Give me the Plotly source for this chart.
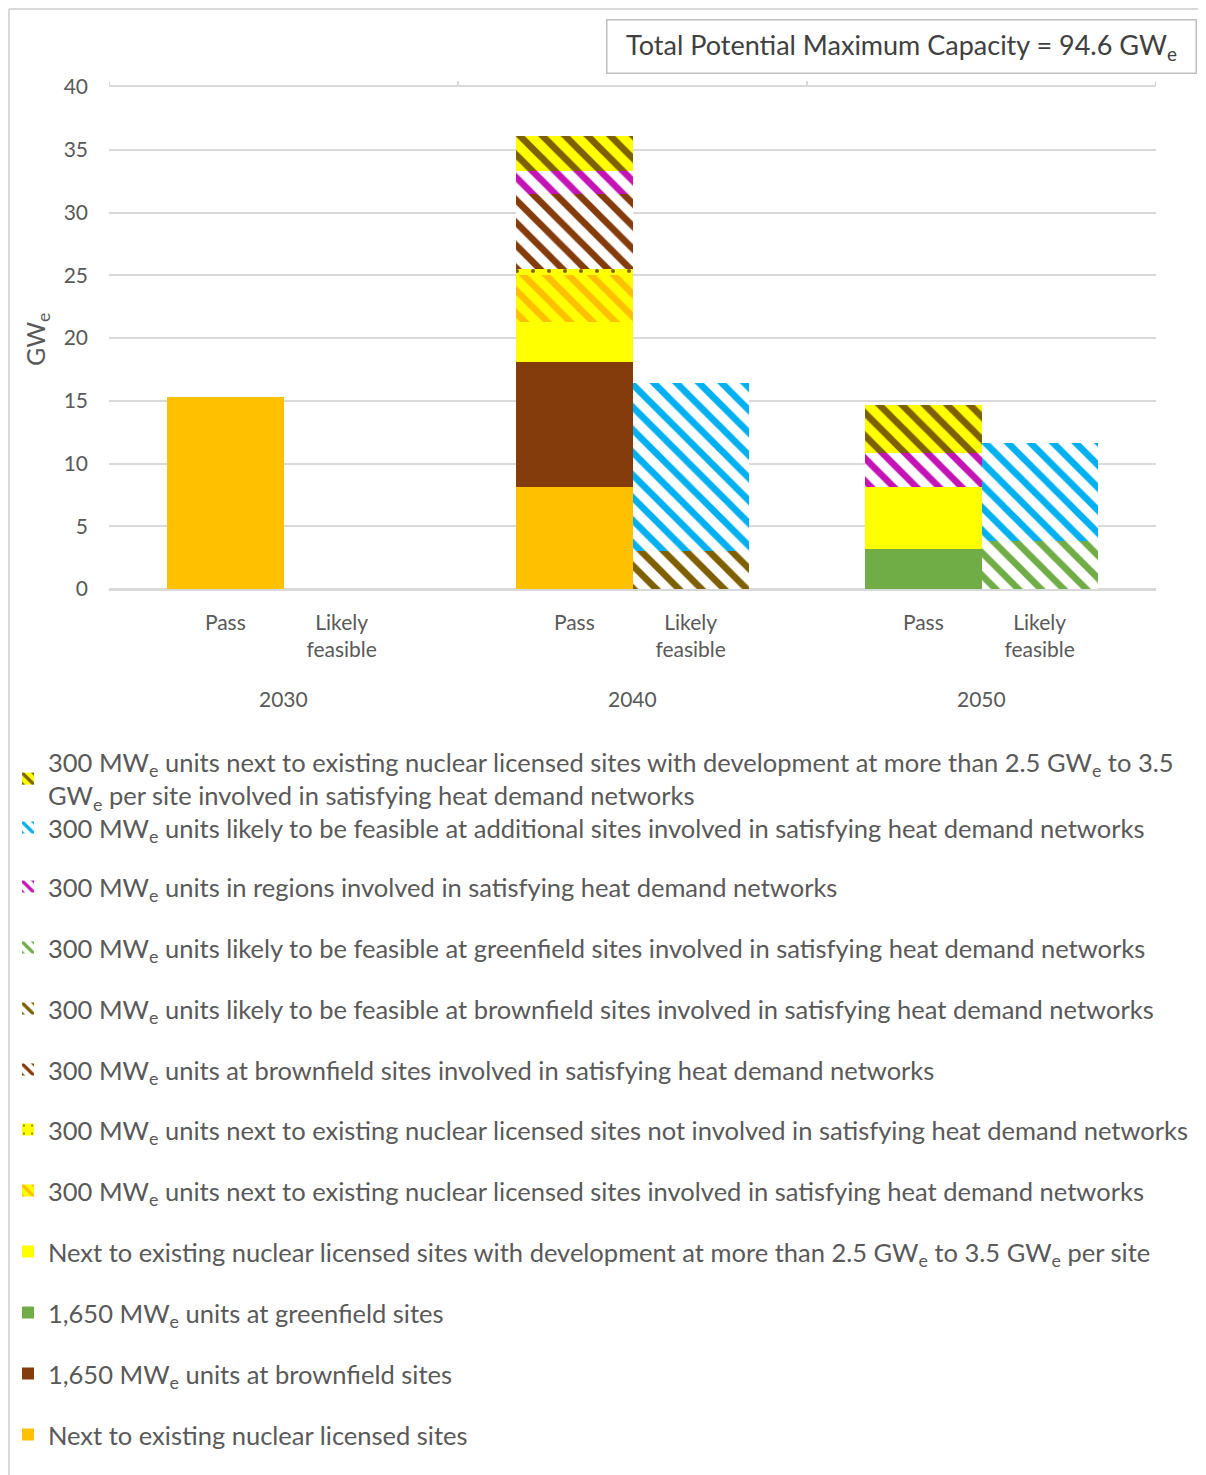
import plotly.graph_objects as go

# ---------------------------------------------------------------------------
# Data (GWe)
# bar order: 2030 Pass, 2030 Likely feasible, 2040 Pass, 2040 Likely feasible,
#            2050 Pass, 2050 Likely feasible
# ---------------------------------------------------------------------------

years = ["2030", "2040", "2050"]
bar_kinds = ["Pass", "Likely<br>feasible"]

existing_sites = [15.3, None, 8.1, None, None, None]
brownfield_1650 = [None, None, 10.0, None, None, None]
greenfield_1650 = [None, None, None, None, 3.2, None]
existing_dev = [None, None, 3.2, None, 4.9, None]
u300_existing_heat = [None, None, 3.7, None, None, None]
u300_existing_no_heat = [None, None, 0.5, None, None, None]
u300_brownfield_heat = [None, None, 6.0, None, None, None]
u300_likely_brownfield = [None, None, None, 3.0, None, None]
u300_likely_greenfield = [None, None, None, None, None, 3.8]
u300_regions = [None, None, 1.8, None, 2.7, None]
u300_likely_additional = [None, None, None, 13.4, None, 7.8]
u300_existing_dev_heat = [None, None, 2.8, None, 3.9, None]

total_label = "Total Potential Maximum Capacity = 94.6 GW<sub>e</sub>"

ORANGE = "#FFC000"
BROWN = "#843C0C"
YELLOW = "#FFFF00"
GREEN = "#70AD47"
CYAN = "#00B0F0"
MAGENTA = "#C414B6"
OLIVE = "#7F6000"
WHITE = "#FFFFFF"

MW = "MW<sub>e</sub>"
GW = "GW<sub>e</sub>"


def stripes(fg, bg):
    return dict(shape="\\", fgcolor=fg, bgcolor=bg, fgopacity=1,
                size=16, solidity=0.42, fillmode="overlay")


# series stacked bottom -> top: (values, legend text, fill, pattern)
SERIES = [
    (existing_sites, "Next to existing nuclear licensed sites", ORANGE, None),
    (brownfield_1650, f"1,650 {MW} units at brownfield sites", BROWN, None),
    (greenfield_1650, f"1,650 {MW} units at greenfield sites", GREEN, None),
    (existing_dev,
     f"Next to existing nuclear licensed sites with development at more than 2.5 {GW} to 3.5 {GW} per site",
     YELLOW, None),
    (u300_existing_heat,
     f"300 {MW} units next to existing nuclear licensed sites involved in satisfying heat demand networks",
     YELLOW, stripes(ORANGE, YELLOW)),
    (u300_existing_no_heat,
     f"300 {MW} units next to existing nuclear licensed sites not involved in satisfying heat demand networks",
     YELLOW, dict(shape=".", fgcolor=OLIVE, bgcolor=YELLOW, fgopacity=1,
                  size=16, solidity=0.05, fillmode="overlay")),
    (u300_brownfield_heat,
     f"300 {MW} units at brownfield sites involved in satisfying heat demand networks",
     WHITE, stripes(BROWN, WHITE)),
    (u300_likely_brownfield,
     f"300 {MW} units likely to be feasible at brownfield sites involved in satisfying heat demand networks",
     WHITE, stripes(OLIVE, WHITE)),
    (u300_likely_greenfield,
     f"300 {MW} units likely to be feasible at greenfield sites involved in satisfying heat demand networks",
     WHITE, stripes(GREEN, WHITE)),
    (u300_regions,
     f"300 {MW} units in regions involved in satisfying heat demand networks",
     WHITE, stripes(MAGENTA, WHITE)),
    (u300_likely_additional,
     f"300 {MW} units likely to be feasible at additional sites involved in satisfying heat demand networks",
     WHITE, stripes(CYAN, WHITE)),
    (u300_existing_dev_heat,
     f"300 {MW} units next to existing nuclear licensed sites with development at more than 2.5 {GW} to 3.5"
     f"<br>{GW} per site involved in satisfying heat demand networks",
     YELLOW, stripes(OLIVE, YELLOW)),
]

# ---------------------------------------------------------------------------
# Geometry: all positions below are page pixels; the page body adds an 8px
# margin, so the figure itself is 8px smaller and shifted.
# ---------------------------------------------------------------------------

PAGE_W, PAGE_H = 1206, 1475
OFF = 8
W, H = PAGE_W - OFF, PAGE_H - OFF
PLOT_L, PLOT_R, PLOT_T, PLOT_B = 109, 1156, 87, 589
TEXT = "#595959"
GRID = "#D9D9D9"
FONT = "Lato"


def px_x(px):
    return (px - PLOT_L) / (PLOT_R - PLOT_L)


def px_y(py):
    return (PLOT_B - py) / (PLOT_B - PLOT_T)


def cont_x(px):
    return max(0.0, (px - OFF) / W)


def cont_y(py):
    return 1 - (py - OFF) / H


# each year group spans 3 slots: half-slot margin, two adjacent bars, half-slot margin
x_pos = [3 * g + 1 + k for g in range(len(years)) for k in range(len(bar_kinds))]
x_text = [kind for _ in years for kind in bar_kinds]
group_edges = [3 * g for g in range(len(years) + 1)]

fig = go.Figure()

# legend rows, top -> bottom (reverse of stacking order)
legend_rows = [779, 828, 887, 948, 1009, 1070, 1130, 1191, 1252, 1313, 1374, 1435]
n = len(SERIES)

for i, (vals, name, color, pattern) in enumerate(SERIES):
    row = n - 1 - i
    key = "legend" if row == 0 else f"legend{row + 1}"
    marker = dict(color=color, line=dict(width=0))
    if pattern:
        marker["pattern"] = pattern
    fig.add_trace(go.Bar(
        x=x_pos, y=vals, name=name, width=1.0,
        marker=marker, legend=key, hoverinfo="skip",
    ))
    fig.update_layout({key: dict(
        xref="container", yref="container",
        x=cont_x(8), y=cont_y(legend_rows[row]),
        xanchor="left", yanchor="middle",
        bgcolor="rgba(0,0,0,0)", borderwidth=0,
        font=dict(family=FONT, size=25.5, color=TEXT),
    )})

# year labels under the category labels
for g, year in enumerate(years):
    fig.add_annotation(
        x=3 * g + 1.5, y=px_y(698), xref="x", yref="paper",
        text=year, showarrow=False, yanchor="middle",
        font=dict(family=FONT, size=21, color=TEXT),
    )

# small group separators above the top gridline
for e in group_edges:
    fig.add_shape(type="line", xref="x", yref="paper",
                  x0=e, x1=e, y0=1, y1=px_y(81),
                  line=dict(color=GRID, width=2))

# y-axis title
fig.add_annotation(
    x=px_x(37), y=px_y(340), xref="paper", yref="paper",
    text="GW<sub>e</sub>", textangle=-90, showarrow=False,
    xanchor="center", yanchor="middle",
    font=dict(family=FONT, size=25, color=TEXT),
)

# total capacity box
fig.add_annotation(
    x=px_x(901), y=px_y(46), xref="paper", yref="paper",
    text=total_label, showarrow=False,
    xanchor="center", yanchor="middle",
    width=588, height=52, borderpad=0,
    bordercolor="#BFBFBF", borderwidth=1.5, bgcolor="white",
    font=dict(family=FONT, size=27, color="#404040"),
)

# outer chart frame (left + top edges visible)
fig.add_shape(type="line", xref="paper", yref="paper",
              x0=px_x(9), x1=px_x(PAGE_W + 5), y0=px_y(9), y1=px_y(9),
              line=dict(color=GRID, width=2))
fig.add_shape(type="line", xref="paper", yref="paper",
              x0=px_x(9), x1=px_x(9), y0=px_y(9), y1=px_y(PAGE_H + 5),
              line=dict(color=GRID, width=2))

fig.update_layout(
    width=W, height=H,
    margin=dict(l=PLOT_L - OFF, r=PAGE_W - PLOT_R, t=PLOT_T - OFF, b=PAGE_H - PLOT_B,
                autoexpand=False),
    paper_bgcolor="white", plot_bgcolor="white",
    barmode="stack", bargap=0,
    showlegend=True,
    font=dict(family=FONT, color=TEXT),
)

fig.update_xaxes(
    range=[0, 9], tickvals=x_pos, ticktext=x_text,
    showgrid=False, zeroline=False,
    showline=True, mirror=True, linecolor=GRID, linewidth=1.5,
    ticks="", ticklabelstandoff=14,
    tickfont=dict(family=FONT, size=21, color=TEXT),
)
fig.update_yaxes(
    range=[0, 40], dtick=5, tick0=0,
    showgrid=True, gridcolor=GRID, gridwidth=1.5,
    zeroline=True, zerolinecolor=GRID, zerolinewidth=2,
    showline=False, ticks="", ticklabelstandoff=20,
    tickfont=dict(family=FONT, size=21, color=TEXT),
    automargin=False,
)

fig.write_html("out.html")
